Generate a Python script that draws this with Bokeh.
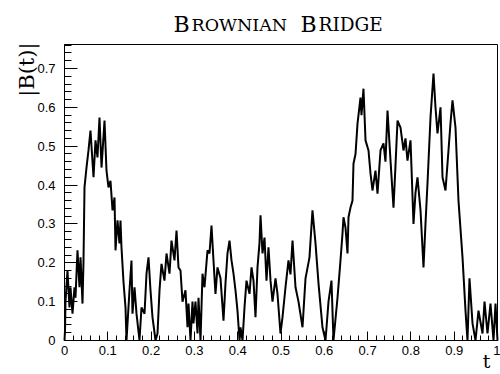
from math import pi
from bokeh.plotting import figure
from bokeh.models import (Range1d, FixedTicker, CustomJSTickFormatter, Label,
                          BoxAnnotation)
from bokeh.embed import file_html
from bokeh.resources import INLINE

# Brownian bridge |B(t)|
t = [0.0, 0.0012, 0.0023, 0.0069, 0.0115, 0.0139, 0.0185, 0.0231, 0.0254, 0.0300,
     0.0346, 0.0370, 0.0416, 0.0439, 0.0462, 0.0508, 0.0554, 0.0600, 0.0670, 0.0716,
     0.0762, 0.0808, 0.0855, 0.0924, 0.0970, 0.1016, 0.1062, 0.1109, 0.1155, 0.1178,
     0.1224, 0.1270, 0.1293, 0.1316, 0.1363, 0.1409, 0.1432, 0.1501, 0.1547, 0.1570,
     0.1617, 0.1663, 0.1732, 0.1778, 0.1848, 0.1894, 0.1940, 0.1986, 0.2032, 0.2102,
     0.2148, 0.2194, 0.2240, 0.2309, 0.2356, 0.2425, 0.2471, 0.2540, 0.2587, 0.2633,
     0.2679, 0.2725, 0.2794, 0.2841, 0.2864, 0.2910, 0.2956, 0.2979, 0.3025, 0.3072,
     0.3095, 0.3141, 0.3187, 0.3233, 0.3303, 0.3349, 0.3395, 0.3441, 0.3487, 0.3533,
     0.3603, 0.3672, 0.3718, 0.3764, 0.3811, 0.3857, 0.3903, 0.3949, 0.3995, 0.4042,
     0.4065, 0.4111, 0.4157, 0.4203, 0.4273, 0.4319, 0.4365, 0.4411, 0.4457, 0.4503,
     0.4527, 0.4573, 0.4619, 0.4665, 0.4711, 0.4758, 0.4804, 0.4873, 0.4919, 0.4988,
     0.5035, 0.5104, 0.5173, 0.5219, 0.5266, 0.5335, 0.5404, 0.5497, 0.5566, 0.5658,
     0.5727, 0.5797, 0.5866, 0.5958, 0.6028, 0.6097, 0.6166, 0.6212, 0.6305, 0.6374,
     0.6420, 0.6443, 0.6490, 0.6536, 0.6559, 0.6605, 0.6651, 0.6674, 0.6721, 0.6767,
     0.6836, 0.6859, 0.6905, 0.6952, 0.7021, 0.7067, 0.7113, 0.7182, 0.7229, 0.7298,
     0.7367, 0.7413, 0.7460, 0.7529, 0.7598, 0.7644, 0.7691, 0.7760, 0.7829, 0.7875,
     0.7921, 0.7991, 0.8060, 0.8106, 0.8152, 0.8222, 0.8291, 0.8337, 0.8383, 0.8453,
     0.8522, 0.8568, 0.8614, 0.8684, 0.8730, 0.8799, 0.8868, 0.8915, 0.8961, 0.9030,
     0.9099, 0.9192, 0.9261, 0.9307, 0.9353, 0.9423, 0.9492, 0.9561, 0.9654, 0.9700,
     0.9769, 0.9838, 0.9908, 0.9954, 1.0]
b = [0.0, 0.026, 0.10, 0.18, 0.085, 0.137, 0.069, 0.137, 0.11, 0.232,
     0.137, 0.214, 0.095, 0.206, 0.394, 0.445, 0.489, 0.54, 0.42, 0.515,
     0.471, 0.574, 0.445, 0.566, 0.437, 0.394, 0.411, 0.335, 0.368, 0.232,
     0.309, 0.25, 0.309, 0.24, 0.15, 0.085, 0.0, 0.129, 0.206, 0.069,
     0.137, 0.069, 0.0, 0.085, 0.069, 0.172, 0.214, 0.129, 0.06, 0.0,
     0.018, 0.129, 0.197, 0.154, 0.224, 0.172, 0.257, 0.206, 0.283, 0.188,
     0.18, 0.10, 0.129, 0.034, 0.095, 0.0, 0.10, 0.044, 0.10, 0.018,
     0.11, 0.0, 0.172, 0.137, 0.232, 0.224, 0.296, 0.206, 0.12, 0.188,
     0.16, 0.051, 0.147, 0.224, 0.257, 0.206, 0.172, 0.129, 0.077, 0.0,
     0.034, 0.0, 0.085, 0.154, 0.12, 0.188, 0.154, 0.06, 0.188, 0.25,
     0.322, 0.224, 0.265, 0.154, 0.24, 0.154, 0.10, 0.16, 0.12, 0.018,
     0.06, 0.137, 0.206, 0.17, 0.257, 0.137, 0.10, 0.034, 0.16, 0.214,
     0.335, 0.25, 0.147, 0.034, 0.0, 0.10, 0.154, 0.0, 0.11, 0.206,
     0.275, 0.317, 0.29, 0.224, 0.317, 0.342, 0.36, 0.455, 0.48, 0.558,
     0.625, 0.58, 0.648, 0.515, 0.489, 0.43, 0.386, 0.437, 0.378, 0.489,
     0.507, 0.46, 0.592, 0.463, 0.342, 0.45, 0.566, 0.548, 0.489, 0.52,
     0.463, 0.515, 0.30, 0.38, 0.42, 0.335, 0.188, 0.30, 0.404, 0.574,
     0.687, 0.60, 0.533, 0.60, 0.42, 0.386, 0.489, 0.56, 0.618, 0.548,
     0.36, 0.214, 0.077, 0.0, 0.16, 0.044, 0.0, 0.077, 0.018, 0.10,
     0.018, 0.095, 0.0, 0.095, 0.0]

x_ticks = [0.0, 0.1, 0.2, 0.3, 0.4, 0.5, 0.6, 0.7, 0.8, 0.9, 1.0]
y_ticks = [0.0, 0.1, 0.2, 0.3, 0.4, 0.5, 0.6, 0.7]
x_minor = [round(i * 0.02, 2) for i in range(51)]
y_minor = [round(i * 0.02, 2) for i in range(39)]
x_max = 1.0
y_max = 0.7617

title_parts = ["B", "ROWNIAN", "B", "RIDGE"]
x_label = "t"
y_label = "|B(t)|"

# the frame fills the whole canvas; the visible box is drawn inside it
p = figure(width=500, height=374, output_backend="svg", toolbar_location=None,
           title=None, x_range=Range1d(-0.14781, 1.006928),
           y_range=Range1d(-0.08749, 0.87493),
           min_border_left=0, min_border_right=0, min_border_top=0,
           min_border_bottom=0, background_fill_color="white",
           border_fill_color="white")
p.outline_line_color = None
p.xgrid.visible = False
p.ygrid.visible = False

p.line(t, b, line_color="black", line_width=2)

p.add_layout(BoxAnnotation(left=0, right=x_max, bottom=0, top=y_max,
                           fill_color=None, fill_alpha=0, line_color="black",
                           line_width=1, line_alpha=1))

fmt = CustomJSTickFormatter(code="var s = tick.toFixed(1); return s.endsWith('.0') ? s.slice(0, -2) : s;")
for ax, ticks, minor, maj, mn, standoff, bnds in (
        (p.xaxis[0], x_ticks, x_minor, 9, 5, 5, (0, x_max)),
        (p.yaxis[0], y_ticks, y_minor, 13, 7, 9, (0, y_max))):
    ax.fixed_location = 0
    ax.bounds = bnds
    ax.ticker = FixedTicker(ticks=ticks, minor_ticks=minor)
    ax.formatter = fmt
    ax.major_tick_in = maj
    ax.major_tick_out = 0
    ax.minor_tick_in = mn
    ax.minor_tick_out = 0
    ax.axis_line_color = "black"
    ax.major_tick_line_color = "black"
    ax.minor_tick_line_color = "black"
    ax.major_label_text_font = "Liberation Sans"
    ax.major_label_text_font_size = "13px"
    ax.major_label_text_color = "black"
    ax.major_label_standoff = standoff

serif = "DejaVu Serif"
positions = [(0.2517, "22px"), (0.2933, "17.5px"), (0.5450, "22px"), (0.5866, "18.5px")]
for txt, (xp, fs) in zip(title_parts, positions):
    p.add_layout(Label(x=xp, y=0.8124, text=txt, text_font=serif, text_font_size=fs,
                       text_color="black", text_align="left",
                       text_baseline="alphabetic"))

p.add_layout(Label(x=-0.0855, y=0.767, text=y_label, angle=pi / 2,
                   text_font=serif, text_font_size="21px", text_color="black",
                   text_align="right", text_baseline="middle"))
p.add_layout(Label(x=0.9746, y=-0.0535, text=x_label, text_font=serif,
                   text_font_size="19px", text_color="black",
                   text_align="center", text_baseline="alphabetic"))

open("out.html", "w").write(file_html(p, INLINE))
